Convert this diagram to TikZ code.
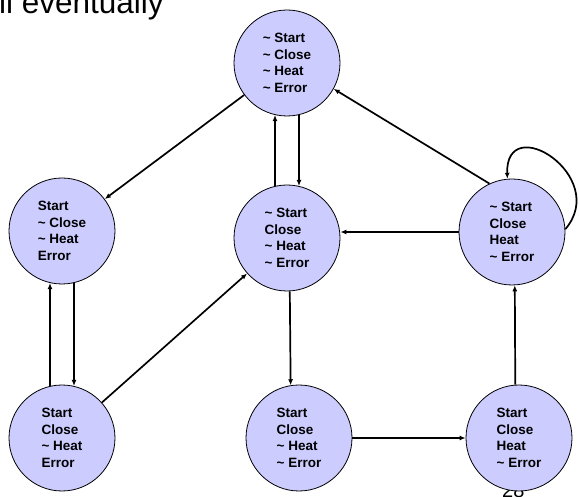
\documentclass[tikz,border=0pt]{standalone}
\usepackage{fontspec}
\setmainfont{Liberation Sans}
\usetikzlibrary{arrows.meta}

\definecolor{statefill}{RGB}{204,204,255}

\tikzset{
  state/.style={circle, draw=black, line width=0.8pt, fill=statefill,
    minimum size=106pt, inner sep=0pt, align=left,
    font=\bfseries\fontsize{13.5}{16.5}\selectfont},
  trans/.style={line width=1.7pt, -{Latex[length=6pt,width=5pt]}},
}

\begin{document}
\begin{tikzpicture}[x=1pt,y=1pt]
\useasboundingbox (0,0) rectangle (579,496);
\clip (0,0) rectangle (579,496);

% heading and page number, both cut by the page edge
\node[anchor=base west, inner sep=0pt, font=\fontsize{31.5}{36}\selectfont] (title) at (-1,482) {ll eventually};
\node[anchor=base west, inner sep=0pt, font=\fontsize{20}{24}\selectfont] (pagenum) at (502,-1) {28};

% states
\node[state] (T)  at (287,433) {\textasciitilde{} Start\\\textasciitilde{} Close\\\textasciitilde{} Heat\\\textasciitilde{} Error};
\node[state] (L)  at (62,265)  {Start\\\textasciitilde{} Close\\\textasciitilde{} Heat\\Error};
\node[state] (M)  at (287,258) {\textasciitilde{} Start\\Close\\\textasciitilde{} Heat\\\textasciitilde{} Error};
\node[state] (R)  at (512,264) {\textasciitilde{} Start\\Close\\Heat\\\textasciitilde{} Error};
\node[state] (BL) at (62,58)   {Start\\Close\\\textasciitilde{} Heat\\Error};
\node[state] (BM) at (299,58)  {Start\\Close\\\textasciitilde{} Heat\\\textasciitilde{} Error};
\node[state] (BR) at (519,58)  {Start\\Close\\Heat\\\textasciitilde{} Error};

% transitions
\draw[trans] (T) -- (L);
\draw[trans] (M.103) -- (T.257);
\draw[trans] (T.283) -- (M.77);
\draw[trans] (R.115) -- (T.-29);
\draw[trans] (R.west) -- (M.east |- R.west);
\draw[trans] (R.3) .. controls +(45,53) and +(-2,69) .. (R.95);
\draw[trans] (BL.103) -- (L.257);
\draw[trans] (L.283) -- (BL.77);
\draw[trans] (BL) -- (M);
\draw[trans] (M.273) -- (BM.99);
\draw[trans] (BM) -- (BR);
\draw[trans] (BR.94) -- (R.273);
\end{tikzpicture}
\end{document}
